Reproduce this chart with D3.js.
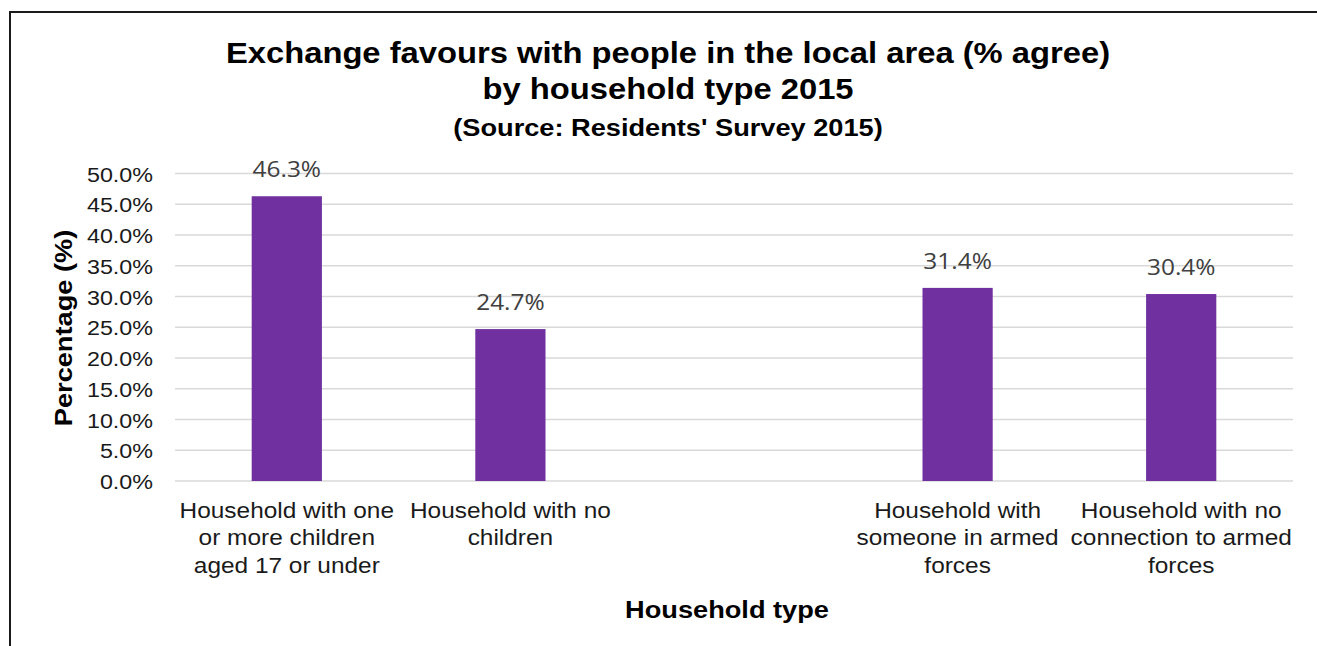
<!DOCTYPE html>
<html>
<head>
<meta charset="utf-8">
<script src="https://cdn.jsdelivr.net/npm/d3@7"></script>
<style>
  html, body { margin: 0; padding: 0; background: #fff; }
  svg { display: block; }
</style>
</head>
<body>
<svg id="chart" width="1317" height="646"></svg>
<script>
// Household types (the blank slot separates the two groupings)
const categories = [
  ["Household with one", "or more children", "aged 17 or under"],
  ["Household with no", "children"],
  [],
  ["Household with", "someone in armed", "forces"],
  ["Household with no", "connection to armed", "forces"]
];
const values = [46.3, 24.7, null, 31.4, 30.4];
const yTicks = [0, 5, 10, 15, 20, 25, 30, 35, 40, 45, 50];
const titleLines = [
  "Exchange favours with people in the local area (% agree)",
  "by household type 2015"
];
const subtitle = "(Source: Residents' Survey 2015)";
const xTitle = "Household type";
const yTitle = "Percentage (%)";

const FONT = "'Liberation Sans', Arial, sans-serif";
const SX = 1.11; // horizontal glyph stretch used throughout the chart's lettering
const svg = d3.select("#chart");
const W = 1317, H = 646;
const plot = { left: 175, right: 1293, top: 173.5, bottom: 481 };

// Places a (possibly multi-line) centred label, stretched horizontally
function label(parent, x, y, lines, size, opts = {}) {
  const g = parent.append("g")
    .attr("transform", `translate(${x},${y}) scale(${SX},1)`);
  const t = g.append("text")
    .attr("text-anchor", "middle")
    .attr("font-family", opts.family || FONT)
    .attr("font-weight", opts.weight || "normal")
    .attr("font-size", size)
    .attr("fill", opts.fill || "#000");
  [].concat(lines).forEach((line, k) => {
    t.append("tspan").attr("x", 0).attr("y", k * (opts.lineHeight || 0)).text(line);
  });
  return g;
}

// Frame (top and left edges)
svg.append("path")
  .attr("d", `M10,${H} L10,12 L${W},12`)
  .attr("fill", "none")
  .attr("stroke", "#1a1a1a")
  .attr("stroke-width", 2);

const idx = d3.range(categories.length);
const x = d3.scaleBand()
  .domain(idx)
  .range([plot.left, plot.right])
  .paddingInner(0.686)
  .paddingOuter(0.343);

const y = d3.scaleLinear().domain([0, 50]).range([plot.bottom, plot.top]);

// Gridlines
svg.append("g")
  .selectAll("line")
  .data(yTicks)
  .join("line")
  .attr("x1", plot.left)
  .attr("x2", plot.right)
  .attr("y1", d => y(d))
  .attr("y2", d => y(d))
  .attr("stroke", "#d9d9d9")
  .attr("stroke-width", 1.5);

// Y axis tick labels
const yAxis = d3.axisLeft(y)
  .tickValues(yTicks)
  .tickSize(0)
  .tickPadding(0)
  .tickFormat(d => d.toFixed(1) + "%");
const gy = svg.append("g")
  .attr("transform", `translate(${plot.left - 22},0)`)
  .call(yAxis);
gy.select(".domain").remove();
gy.selectAll("text")
  .attr("font-family", FONT)
  .attr("font-size", 21)
  .attr("fill", "#1a1a1a")
  .attr("dy", "0.36em")
  .attr("transform", `scale(${SX},1)`);

// Bars
const barData = idx.filter(i => values[i] != null);
svg.append("g")
  .selectAll("rect")
  .data(barData)
  .join("rect")
  .attr("x", i => x(i))
  .attr("width", x.bandwidth())
  .attr("y", i => y(values[i]))
  .attr("height", i => y(0) - y(values[i]))
  .attr("fill", "#7030a0");

// Value labels
const valG = svg.append("g");
barData.forEach(i => {
  label(valG, x(i) + x.bandwidth() / 2, y(values[i]) - 19,
    values[i].toFixed(1) + "%", 22,
    { family: "'Open Sans', sans-serif", fill: "#404040" });
});

// Category labels
const catG = svg.append("g");
idx.forEach(i => {
  if (!categories[i].length) return;
  label(catG, x(i) + x.bandwidth() / 2, 518, categories[i], 22,
    { fill: "#1a1a1a", lineHeight: 27.5 });
});

// Titles
const titleG = svg.append("g");
label(titleG, 668, 63, titleLines[0], 29.5, { weight: "bold" });
label(titleG, 668, 99, titleLines[1], 29.5, { weight: "bold" });
label(titleG, 668, 136, subtitle, 24.5, { weight: "bold" });

// Axis titles
label(svg, 727, 618, xTitle, 24.5, { weight: "bold" });

svg.append("text")
  .attr("transform", `translate(72,328) rotate(-90) scale(${SX},1)`)
  .attr("text-anchor", "middle")
  .attr("font-family", FONT)
  .attr("font-weight", "bold")
  .attr("font-size", 24.5)
  .attr("fill", "#000")
  .text(yTitle);
</script>
</body>
</html>
